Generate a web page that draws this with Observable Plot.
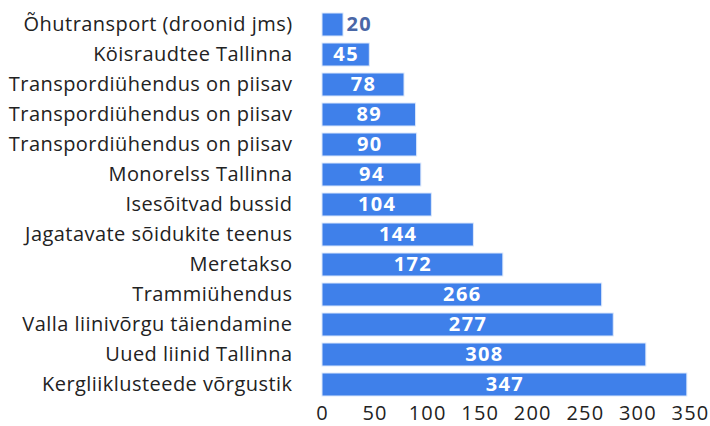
<!DOCTYPE html>
<html>
<head>
<meta charset="utf-8">
<script src="https://cdn.jsdelivr.net/npm/d3@7"></script>
<script src="https://cdn.jsdelivr.net/npm/@observablehq/plot@0.6"></script>
<style>
  html, body { margin: 0; padding: 0; background: #fff; }
  #chart { width: 710px; height: 426px; }
  #chart svg text { letter-spacing: 0.45px; }
  #chart svg g[aria-label="x-axis tick label"] text { letter-spacing: 1.2px; }
  #chart svg g[aria-label="text"] text { letter-spacing: 1.4px; }
</style>
</head>
<body>
<div id="chart"></div>
<script>
const labels = [
  "Õhutransport (droonid jms)",
  "Köisraudtee Tallinna",
  "Transpordiühendus on piisav",
  "Transpordiühendus on piisav",
  "Transpordiühendus on piisav",
  "Monorelss Tallinna",
  "Isesõitvad bussid",
  "Jagatavate sõidukite teenus",
  "Meretakso",
  "Trammiühendus",
  "Valla liinivõrgu täiendamine",
  "Uued liinid Tallinna",
  "Kergliiklusteede võrgustik"
];
const values = [20, 45, 78, 89, 90, 94, 104, 144, 172, 266, 277, 308, 347];
const xTicks = [0, 50, 100, 150, 200, 250, 300, 350];

const data = labels.map((label, i) => ({ i, label, value: values[i] }));
const inside = data.filter(d => d.value >= 40);
const outside = data.filter(d => d.value < 40);

const chart = Plot.plot({
  width: 710,
  height: 426,
  marginLeft: 322,
  marginRight: 20,
  marginTop: 4,
  marginBottom: 22,
  style: { fontFamily: "'Open Sans', sans-serif", fontSize: "20px", color: "#222", background: "#fff" },
  x: { domain: [0, 350], ticks: xTicks, tickSize: 0, tickPadding: 1, label: null },
  y: { domain: data.map(d => d.i), padding: 0.25, tickSize: 0, tickPadding: 30,
       tickFormat: i => labels[i], label: null },
  marks: [
    Plot.gridX(xTicks, { stroke: "#e6e6e6", strokeOpacity: 1, strokeWidth: 1.5, y1: 0, y2: 400 }),
    Plot.barX(data, { y: "i", x: "value", fill: "#3f80ea", stroke: "#dce8fb", strokeWidth: 1 }),
    Plot.text(inside, { y: "i", x: d => d.value / 2, text: d => String(d.value),
      fill: "#fff", fontWeight: "bold", fontSize: 20 }),
    Plot.text(outside, { y: "i", x: "value", text: d => String(d.value), dx: 3,
      textAnchor: "start", fill: "#4a67a6", fontWeight: "bold", fontSize: 20 })
  ]
});
document.getElementById("chart").appendChild(chart);
</script>
</body>
</html>
